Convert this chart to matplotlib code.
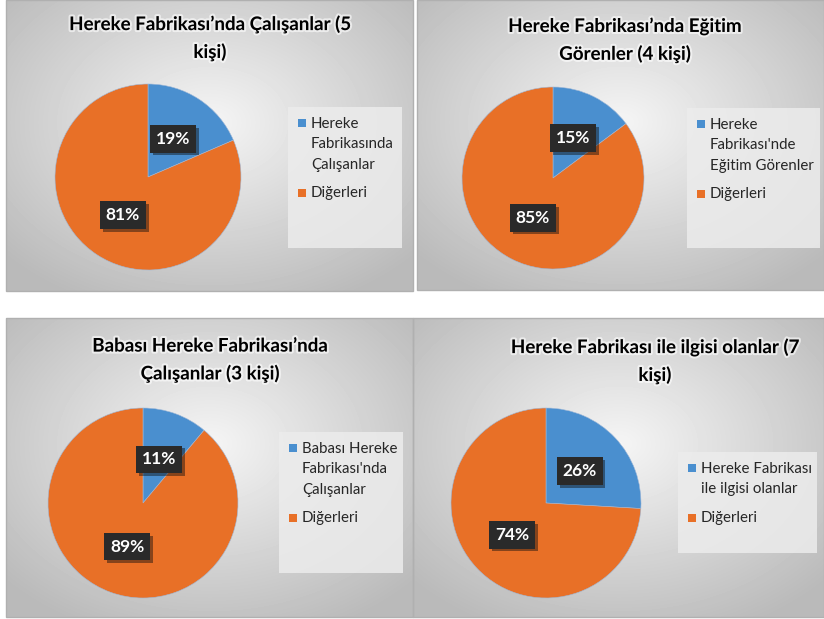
import numpy as np
import matplotlib
matplotlib.use("Agg")
import matplotlib.pyplot as plt
import matplotlib.patheffects as pe
from matplotlib.patches import Rectangle

plt.rcParams['font.family'] = ['Lato', 'DejaVu Sans']

# Data
titles = ["Hereke Fabrikası’nda Çalışanlar (5\nkişi)",
          "Hereke Fabrikası’nda Eğitim\nGörenler (4 kişi)",
          "Babası Hereke Fabrikası’nda\nÇalışanlar (3 kişi)",
          "Hereke Fabrikası ile ilgisi olanlar (7\nkişi)"]
group_labels = ["Hereke\nFabrikasında\nÇalışanlar",
                "Hereke\nFabrikası'nde\nEğitim Görenler",
                "Babası Hereke\nFabrikası'nda\nÇalışanlar",
                "Hereke Fabrikası\nile ilgisi olanlar"]
other_label = "Diğerleri"
group_counts = [5, 4, 3, 7]
other_counts = [22, 23, 24, 20]

colors = ['#4a8fcf', '#e87027']

W, H = 824, 619
fig = plt.figure(figsize=(W / 100, H / 100), dpi=100)
fig.patch.set_facecolor('white')

# overlay axes in pixel coordinates
bg = fig.add_axes([0, 0, 1, 1], zorder=0)
bg.set_xlim(0, W)
bg.set_ylim(H, 0)
bg.axis('off')

# layout (pixels): panel box, pie centre/radius, title centre, legend box
panels = [(6, 0, 413, 291), (417, 0, 824, 290), (6, 318, 413, 617), (413, 318, 824, 617)]
pies = [(148, 177, 93), (553, 178, 91), (143, 503, 95), (546, 503, 95)]
title_pos = [(210, 38), (625, 40), (210, 360), (655, 361)]
legend_box = [(288, 107, 402, 248), (687, 108, 820, 248), (279, 432, 403, 573), (678, 452, 817, 553)]

def gradient(w, h):
    yy, xx = np.mgrid[0:h, 0:w]
    dx = (xx - w * 0.5) / (w * 0.5)
    dy = (yy - h * 0.42) / (h * 0.5)
    d = np.clip(np.sqrt(dx**2 + dy**2) / 1.35, 0, 1)
    light, dark = 0.96, 0.73
    return light - (light - dark) * d

for i in range(4):
    x0, y0, x1, y1 = panels[i]
    g = gradient(x1 - x0, y1 - y0)
    bg.imshow(g, cmap='gray', vmin=0, vmax=1, extent=(x0, x1, y1, y0),
              interpolation='bilinear', aspect='auto', zorder=0)
    bg.add_patch(Rectangle((x0, y0), x1 - x0, y1 - y0, fill=False,
                           edgecolor='#b0b0b0', lw=1.0, zorder=1))

    # title
    tx, ty = title_pos[i]
    bg.text(tx, ty, titles[i], ha='center', va='center', fontsize=13.5,
            fontweight='bold', color='black', linespacing=1.65, zorder=3,
            path_effects=[pe.withStroke(linewidth=3, foreground='white', alpha=0.6)])

    # legend
    lx0, ly0, lx1, ly1 = legend_box[i]
    bg.add_patch(Rectangle((lx0, ly0), lx1 - lx0, ly1 - ly0, facecolor='#ececec',
                           edgecolor='none', alpha=0.85, zorder=2))
    nlines = group_labels[i].count('\n') + 1
    first_y = ly0 + 16
    bg.add_patch(Rectangle((lx0 + 10, first_y - 4), 8, 8, facecolor=colors[0],
                           edgecolor='none', zorder=3))
    bg.text(lx0 + 23, first_y - 6, group_labels[i], ha='left', va='top',
            fontsize=10.8, color='#262626', linespacing=1.58, zorder=3)
    second_y = first_y + nlines * 20 + 10
    bg.add_patch(Rectangle((lx0 + 10, second_y - 4), 8, 8, facecolor=colors[1],
                           edgecolor='none', zorder=3))
    bg.text(lx0 + 23, second_y, other_label, ha='left', va='center',
            fontsize=10.8, color='#262626', zorder=3)

    # pie
    cx, cy, r = pies[i]
    ax = fig.add_axes([(cx - r) / W, 1 - (cy + r) / H, 2 * r / W, 2 * r / H], zorder=2)
    wedges, texts, autotexts = ax.pie([group_counts[i], other_counts[i]], colors=colors,
                                      startangle=90, counterclock=False,
                                      autopct='%1.0f%%', pctdistance=0.49,
                                      wedgeprops=dict(edgecolor='#9fb8d8', linewidth=0.4),
                                      textprops=dict(color='white', fontsize=12.5,
                                                     fontweight='bold'))
    for t in autotexts:
        t.set_bbox(dict(boxstyle='square,pad=0.33', facecolor='#2a2a2a',
                        edgecolor='none'))
        t.get_bbox_patch().set_path_effects(
            [pe.SimplePatchShadow(offset=(2, -2), alpha=0.45), pe.Normal()])
    ax.set_xlim(-1, 1)
    ax.set_ylim(-1, 1)
    ax.set_aspect('auto')
    ax.axis('off')

fig.savefig('out.png', dpi=100, facecolor='white')
